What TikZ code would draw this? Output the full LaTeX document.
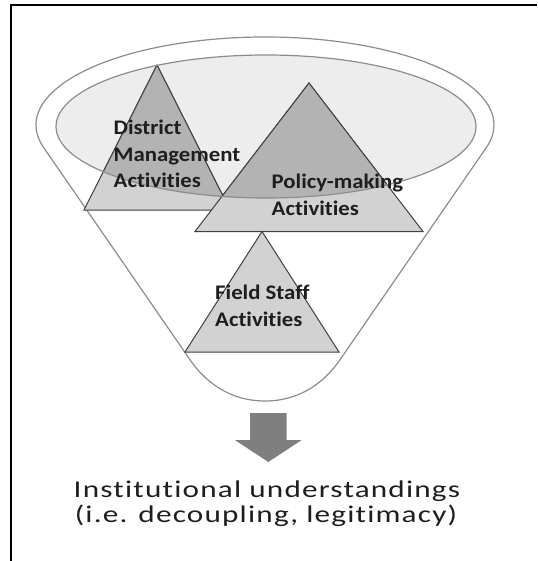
\documentclass[tikz,border=0pt]{standalone}
\usepackage{fontspec}
\setmainfont{Carlito}
\newfontfamily\lblfont[FakeStretch=1.1,Ligatures=NoCommon]{Carlito}
\newfontfamily\btmfont[FakeStretch=1.3,LetterSpace=5,Ligatures=NoCommon]{Carlito}
\definecolor{lineg}{HTML}{8C8C8C}
\definecolor{ellfill}{HTML}{EDEDED}
\definecolor{trilight}{HTML}{D2D2D2}
\definecolor{tridark}{HTML}{B3B3B3}
\definecolor{arrowg}{HTML}{7F7F7F}
\definecolor{txt}{HTML}{1E1E1E}
\tikzset{
  funnelline/.style={draw=lineg, line width=1.2pt},
  tri/.style={draw=black!75, line width=1pt, line join=miter},
  lbl/.style={inner sep=0pt, anchor=base west, text=txt, font=\lblfont\bfseries\fontsize{20.7}{25}\selectfont},
  btm/.style={inner sep=0pt, anchor=base, text=txt, font=\btmfont\fontsize{24}{28}\selectfont},
}
\begin{document}
\begin{tikzpicture}[x=1pt,y=1pt]
\useasboundingbox (0,0) rectangle (537,-561);
% frame
\draw[line width=2pt] (10.5,-561) -- (10.5,-5) -- (537,-5);
% funnel outline
\draw[funnelline, fill=white] (43.65,-147.55)
  arc[start angle=194.85, end angle=-14.85, x radius=229pt, y radius=88pt]
  -- (339.8,-360) .. controls (326,-380) and (302,-401) .. (265,-401)
  .. controls (228,-401) and (204,-380) .. (190.2,-360) -- cycle;
% inner ellipse fill
\fill[ellfill] (266,-126.5) ellipse [x radius=210pt, y radius=71.5pt];
% triangles (light)
\draw[tri, fill=trilight] (157,-65) -- (84,-210) -- (230,-210) -- cycle;
\draw[tri, fill=trilight] (309,-83) -- (195,-231.5) -- (423,-231.5) -- cycle;
\draw[tri, fill=trilight] (262,-231.5) -- (185,-352) -- (339,-352) -- cycle;
% triangles (darker inside the ellipse)
\begin{scope}
  \clip (266,-126.5) ellipse [x radius=210pt, y radius=71.5pt];
  \draw[tri, fill=tridark] (157,-65) -- (84,-210) -- (230,-210) -- cycle;
  \draw[tri, fill=tridark] (309,-83) -- (195,-231.5) -- (423,-231.5) -- cycle;
\end{scope}
% inner ellipse outline
\draw[funnelline] (266,-126.5) ellipse [x radius=210pt, y radius=71.5pt];
% labels
\node[lbl] (dm1) at (113.5,-135) {District};
\node[lbl] (dm2) at (113.5,-161.5) {Management};
\node[lbl] (dm3) at (113.5,-188) {Activities};
\node[lbl] (pm1) at (271.5,-188.3) {Policy-making};
\node[lbl] (pm2) at (271.5,-215) {Activities};
\node[lbl] (fs1) at (215,-299) {Field Staff};
\node[lbl] (fs2) at (215,-326) {Activities};
% block arrow
\fill[arrowg] (250,-413) -- (286.7,-413) -- (286.7,-440) -- (301.7,-440)
  -- (268.3,-462) -- (234.9,-440) -- (250,-440) -- cycle;
% bottom text
\node[btm] (out1) at (267,-497) {Institutional understandings};
\node[btm] (out2) at (266,-522) {(i.e. decoupling, legitimacy)};
\end{tikzpicture}
\end{document}
